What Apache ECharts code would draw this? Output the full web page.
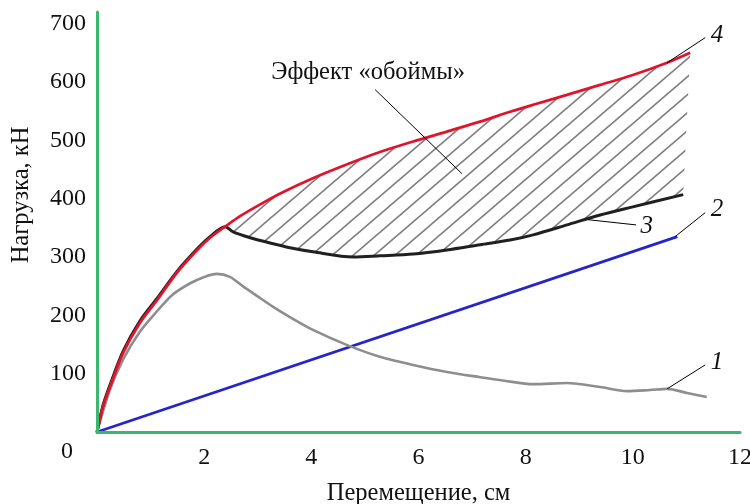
<!DOCTYPE html>
<html>
<head>
<meta charset="utf-8">
<script src="https://cdn.jsdelivr.net/npm/echarts@6/dist/echarts.min.js"></script>
<style>
html,body{margin:0;padding:0;background:#fff;}
#c{width:750px;height:504px;}
</style>
</head>
<body>
<div id="c"></div>
<script>
// ---- data ----
const xTickLabels = [0, 2, 4, 6, 8, 10, 12];
const yTickLabels = [0, 100, 200, 300, 400, 500, 600, 700];

// curve 1 (gray)
const curve1 = [[0,0],[0.24,72],[0.49,125],[0.80,172],[1.12,207],[1.42,236],[1.74,255],[1.98,265],[2.24,271],[2.48,266],[2.72,250],[2.99,233],[3.28,215],[3.60,197],[4.03,175],[4.67,149],[5.28,129],[5.90,115],[6.53,103],[7.15,94],[7.6,88],[8.14,82],[8.77,84],[9.39,77],[9.89,70],[10.32,72],[10.64,74],[11.01,67],[11.38,60]];
// curve 2 (blue)
const curve2 = [[0,0],[10.83,335]];
// curve 3 (black)
const curve3 = [[0,0],[0.11,45],[0.24,80],[0.49,139],[0.80,190],[1.12,229],[1.49,275],[1.87,314],[2.11,335],[2.39,352],[2.54,343],[2.86,333],[3.23,324],[3.60,316],[4.03,309],[4.78,300],[5.28,302],[5.90,305],[6.53,312],[7.15,321],[7.71,329],[8.14,338],[8.77,355],[9.39,372],[10.00,386],[10.94,407]];
// curve 4 (red)
const curve4 = [[0,0],[0.11,43],[0.24,77],[0.49,136],[0.80,187],[1.12,226],[1.49,273],[1.87,312],[2.11,333],[2.39,352],[2.67,370],[3.10,393],[3.42,409],[4.03,435],[4.67,459],[5.28,480],[5.90,498],[6.53,515],[7.15,532],[7.71,549],[8.14,561],[8.77,578],[9.39,595],[10.00,612],[10.64,633],[11.07,650]];
const peakX = 2.39;

// annotations (data coordinates)
const leaderLines = [
  [[5.19,587],[6.81,443]],
  [[11.35,676],[10.64,633]],
  [[11.35,376],[10.79,335]],
  [[10.06,355],[9.16,364]],
  [[11.35,115],[10.64,74]]
];
const annotTexts = [
  {text:'Эффект «обоймы»', at:[5.06,616], italic:false},
  {text:'4', at:[11.57,680], italic:true},
  {text:'2', at:[11.57,381], italic:true},
  {text:'3', at:[10.26,352], italic:true},
  {text:'1', at:[11.57,120], italic:true}
];

// ---- hatch pattern ----
function makeHatch(){
  const W = 21, H = 18;
  const cv = document.createElement('canvas');
  cv.width = W; cv.height = H;
  const g = cv.getContext('2d');
  g.strokeStyle = '#7e7e7e';
  g.lineWidth = 1.7;
  [-W, 0, W].forEach(function(dx){
    g.beginPath();
    g.moveTo(-W + dx, 2*H);
    g.lineTo(2*W + dx, -H);
    g.stroke();
  });
  return {image: cv, repeat: 'repeat'};
}
const hatch = makeHatch();

const hatchTop = curve4.filter(p => p[0] >= peakX);
const hatchBottom = curve3.filter(p => p[0] >= peakX).slice().reverse();

const FONT = '"Liberation Serif", "Times New Roman", serif';
const GREEN = '#3bb86e';

const chart = echarts.init(document.getElementById('c'), null, {renderer:'canvas'});
chart.setOption({
  animation: false,
  backgroundColor: '#fff',
  grid: {left: 97, right: 10, top: 12, bottom: 72, containLabel: false, outerBoundsMode: 'none'},
  xAxis: {
    type: 'value', min: 0, max: 12, interval: 2,
    axisLine: {lineStyle: {color: GREEN, width: 3}},
    axisTick: {show: false},
    splitLine: {show: false},
    axisLabel: {fontFamily: FONT, fontSize: 24, color: '#111', margin: 14,
      formatter: v => (v === 0 ? '' : (xTickLabels.indexOf(v) >= 0 ? String(v) : ''))},
    name: 'Перемещение, см', nameLocation: 'middle', nameGap: 49,
    nameTextStyle: {fontFamily: FONT, fontSize: 24.5, color: '#111'},
    z: 10
  },
  yAxis: {
    type: 'value', min: 0, max: 720, interval: 100,
    axisLine: {show: true, lineStyle: {color: GREEN, width: 3}},
    axisTick: {show: false},
    splitLine: {show: false},
    axisLabel: {fontFamily: FONT, fontSize: 24, color: '#111', margin: 11, showMaxLabel: false,
      formatter: v => (v === 0 ? '' : (yTickLabels.indexOf(v) >= 0 ? String(v) : ''))},
    z: 10
  },
  series: [
    {
      type: 'custom', z: 1, silent: true,
      data: [[0,0]],
      renderItem: function(params, api){
        const pts = hatchTop.concat(hatchBottom).map(p => api.coord(p));
        return {type: 'polygon', shape: {points: pts}, style: {fill: hatch, stroke: null}};
      }
    },
    {type:'line', data: curve2, showSymbol:false, lineStyle:{color:'#2626c8', width:2.8}, z:3},
    {type:'line', data: curve1, showSymbol:false, smooth:0.3, lineStyle:{color:'#8e8e8e', width:2.6}, z:3},
    {type:'line', data: curve3, showSymbol:false, smooth:0.3, lineStyle:{color:'#202020', width:3}, z:4},
    {type:'line', data: curve4, showSymbol:false, smooth:0.3, lineStyle:{color:'#e0142c', width:2.8}, z:5}
  ]
});

function px(p){ return chart.convertToPixel({gridIndex:0}, p); }
const graphics = [];
leaderLines.forEach(function(l){
  const a = px(l[0]), b = px(l[1]);
  graphics.push({type:'line', shape:{x1:a[0], y1:a[1], x2:b[0], y2:b[1]}, style:{stroke:'#000', lineWidth:1}, z:20});
});
annotTexts.forEach(function(t){
  const p = px(t.at);
  graphics.push({type:'text', x:p[0], y:p[1], z:20,
    style:{text:t.text, fill:'#111', font:(t.italic?'italic 25px ':'24.5px ') + FONT, align:'center', verticalAlign:'middle'}});
});
// corner zero label and y axis title
const o = px([0,0]);
graphics.push({type:'text', x:o[0]-30, y:o[1]+20, z:20,
  style:{text:'0', fill:'#111', font:'24px ' + FONT, align:'center', verticalAlign:'middle'}});
graphics.push({type:'text', x:22, y:195, rotation:Math.PI/2, z:20,
  style:{text:'Нагрузка, кН', fill:'#111', font:'24.5px ' + FONT, align:'center', verticalAlign:'middle'}});
chart.setOption({graphic: graphics});
</script>
</body>
</html>
